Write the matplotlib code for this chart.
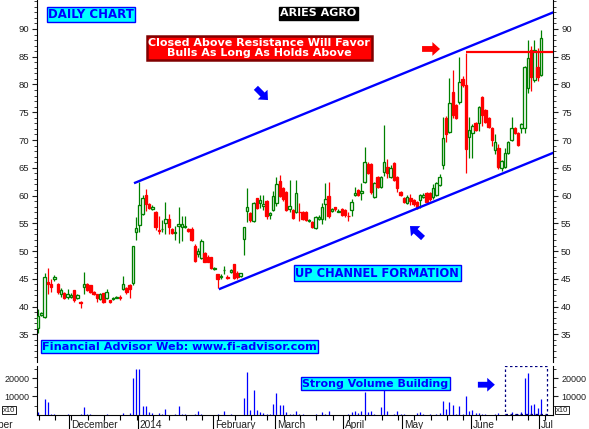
import numpy as np
import matplotlib
matplotlib.use('Agg')
import matplotlib.pyplot as plt
from matplotlib.patches import Rectangle
from matplotlib.ticker import MultipleLocator, FixedLocator
from matplotlib.transforms import blended_transform_factory, Bbox, TransformedBbox

plt.rcParams['font.family'] = ['Liberation Sans', 'DejaVu Sans']

# daily OHLC, ARIES AGRO, mid Nov 2013 - 1 Jul 2014
opens = [36.2, 38.5, 38.1, 44.4, 44.0, 45.0, 44.1, 42.2, 42.4, 41.7,
         41.7, 42.9, 41.6, 40.8, 43.5, 44.1, 43.8, 42.6, 42.2, 41.4,
         42.4, 41.6, 41.1, 41.3, 41.6, 41.8, 43.1, 43.3, 43.9, 44.2,
         53.4, 54.7, 56.7, 60.1, 58.5, 57.6, 57.1, 53.8, 53.9, 55.1,
         55.8, 53.9, 53.2, 54.6, 54.4, 54.4, 54.0, 54.0, 51.0, 49.5,
         48.8, 49.6, 49.0, 48.9, 46.7, 45.8, 45.4, 46.5, 45.3, 46.3,
         47.6, 46.0, 45.5, 52.2, 57.3, 56.8, 55.5, 59.5, 58.6, 58.2,
         59.1, 56.5, 57.4, 58.6, 62.7, 61.4, 60.7, 57.6, 57.4, 57.1,
         57.1, 57.1, 57.1, 55.4, 55.3, 54.2, 55.8, 55.8, 58.5, 60.0,
         57.3, 57.9, 57.1, 57.6, 57.4, 56.4, 57.4, 60.1, 61.0, 60.5,
         62.5, 65.7, 65.7, 59.8, 63.4, 61.6, 64.3, 65.2, 63.4, 65.8,
         63.4, 60.6, 59.5, 58.6, 59.6, 59.2, 58.9, 59.2, 59.8, 60.4,
         60.4, 59.8, 60.1, 61.9, 65.5, 74.0, 71.5, 78.7, 76.3, 76.9,
         81.0, 79.9, 70.6, 71.3, 73.0, 73.0, 77.7, 75.4, 73.9, 72.1,
         68.2, 68.5, 64.9, 65.2, 67.6, 70.0, 72.1, 71.2, 72.1, 72.1,
         79.3, 86.2, 80.8, 83.2, 81.7]
highs = [39.5, 39.0, 46.1, 47.0, 45.0, 45.6, 44.3, 43.3, 42.6, 43.1,
         42.4, 43.0, 42.3, 41.0, 46.2, 44.2, 43.9, 42.8, 42.3, 42.4,
         42.5, 43.1, 41.2, 41.7, 41.9, 42.0, 45.5, 43.5, 44.0, 51.0,
         56.2, 62.5, 60.1, 61.2, 58.7, 58.3, 57.3, 56.3, 55.6, 58.9,
         56.6, 54.1, 54.5, 58.0, 56.4, 56.3, 54.2, 54.3, 51.2, 50.5,
         52.2, 49.8, 49.2, 49.0, 47.1, 45.9, 45.8, 47.3, 45.6, 46.8,
         47.7, 46.4, 46.1, 54.4, 61.3, 57.0, 58.8, 59.6, 60.1, 60.1,
         59.2, 57.0, 60.9, 63.4, 63.7, 61.6, 60.8, 62.8, 57.5, 62.8,
         58.6, 57.2, 57.3, 55.8, 55.5, 56.3, 56.5, 58.6, 62.2, 62.5,
         57.8, 58.0, 57.5, 57.8, 57.6, 57.0, 59.3, 61.6, 61.2, 62.2,
         68.8, 66.1, 65.8, 62.4, 63.6, 63.6, 72.7, 66.5, 65.5, 66.0,
         63.5, 60.8, 59.7, 60.1, 60.2, 59.4, 59.0, 60.3, 60.4, 60.6,
         60.6, 62.0, 62.4, 63.8, 74.2, 74.3, 81.2, 82.6, 76.5, 85.0,
         81.5, 85.6, 74.2, 72.8, 73.2, 76.2, 77.9, 75.6, 74.1, 72.3,
         71.0, 69.2, 66.4, 68.6, 69.9, 74.2, 72.3, 71.4, 73.0, 83.4,
         88.0, 87.0, 88.0, 86.6, 89.8]
lows = [35.3, 38.3, 38.0, 42.2, 42.7, 44.6, 42.3, 41.8, 41.3, 41.3,
        41.5, 40.9, 41.3, 39.7, 42.3, 42.8, 42.5, 42.0, 40.8, 41.2,
        40.7, 41.4, 40.6, 41.2, 41.5, 41.1, 42.9, 42.3, 41.5, 43.8,
        52.0, 53.5, 56.5, 57.3, 57.5, 57.4, 53.8, 53.0, 53.4, 53.0,
        53.0, 53.0, 52.0, 51.5, 51.9, 54.2, 53.5, 51.8, 48.0, 49.0,
        48.6, 48.0, 48.0, 46.8, 46.5, 43.3, 45.0, 45.8, 45.0, 46.1,
        45.0, 45.0, 45.3, 49.2, 55.3, 55.3, 55.3, 57.5, 57.7, 57.4,
        55.8, 55.8, 57.2, 58.2, 59.8, 59.0, 57.2, 57.1, 55.7, 56.8,
        55.4, 55.6, 55.4, 55.2, 54.1, 54.0, 55.6, 54.8, 55.6, 56.0,
        57.1, 57.2, 57.0, 56.3, 56.2, 55.5, 56.4, 60.0, 59.9, 59.2,
        62.3, 63.8, 60.2, 59.6, 61.4, 61.4, 63.6, 63.1, 63.2, 62.6,
        60.7, 59.9, 58.7, 58.4, 58.3, 58.2, 57.5, 57.8, 59.5, 58.7,
        59.0, 59.3, 59.9, 61.7, 64.8, 69.7, 71.3, 74.0, 73.7, 76.5,
        79.5, 64.0, 66.7, 66.7, 71.6, 71.6, 72.6, 73.0, 72.2, 69.0,
        67.5, 64.8, 64.5, 64.9, 67.4, 69.8, 71.0, 68.9, 71.2, 71.3,
        78.5, 78.9, 80.5, 80.6, 81.5]
closes = [38.3, 38.9, 45.3, 44.0, 43.5, 45.3, 42.6, 42.9, 41.6, 42.3,
          42.1, 41.1, 42.1, 40.6, 44.1, 43.0, 42.6, 42.2, 41.6, 42.2,
          40.9, 42.7, 40.8, 41.6, 41.7, 41.6, 44.1, 42.6, 43.1, 51.0,
          54.2, 58.3, 59.5, 58.5, 57.8, 58.0, 54.4, 53.7, 54.0, 55.8,
          54.4, 53.2, 53.5, 54.9, 54.8, 54.6, 53.7, 52.0, 48.2, 50.0,
          51.9, 48.1, 48.1, 47.0, 46.9, 44.9, 45.5, 46.6, 45.1, 46.6,
          45.1, 45.3, 46.0, 54.3, 57.9, 55.6, 58.6, 57.7, 59.2, 58.5,
          56.4, 56.8, 59.9, 62.1, 60.0, 59.4, 57.4, 58.2, 55.9, 60.4,
          57.0, 55.8, 55.6, 55.6, 54.4, 56.1, 56.2, 58.0, 59.4, 56.3,
          57.6, 57.5, 57.3, 56.5, 56.5, 56.3, 58.9, 60.4, 60.1, 60.8,
          66.0, 64.0, 60.7, 62.2, 61.6, 63.4, 66.1, 64.0, 64.9, 62.8,
          61.3, 60.1, 58.9, 59.8, 59.1, 58.4, 57.7, 60.1, 60.1, 58.9,
          59.3, 61.3, 62.2, 63.4, 70.3, 71.0, 76.6, 74.5, 73.9, 80.5,
          79.9, 68.4, 71.8, 72.6, 71.8, 76.0, 74.5, 73.3, 72.4, 70.0,
          69.7, 65.2, 66.2, 67.6, 69.7, 72.1, 71.2, 69.1, 72.8, 83.2,
          84.7, 81.4, 86.2, 81.4, 88.3]
volumes = [1500, 0, 8700, 6900, 600, 600, 0, 0, 0, 600,
           0, 0, 0, 600, 4200, 600, 600, 0, 0, 0,
           0, 600, 0, 0, 0, 0, 1100, 0, 1100, 20200,
           25100, 25100, 4700, 4700, 1500, 900, 0, 900, 500, 3100,
           0, 0, 500, 4700, 500, 500, 0, 0, 500, 2000,
           500, 0, 0, 0, 0, 500, 0, 2000, 0, 500,
           0, 0, 0, 9100, 23300, 2400, 13500, 2400, 1500, 900,
           500, 500, 5800, 11800, 5500, 5500, 1500, 500, 500, 2000,
           500, 500, 0, 0, 0, 500, 0, 1500, 500, 2000,
           0, 0, 0, 0, 0, 500, 1500, 2000, 900, 1800,
           12400, 1500, 2000, 500, 0, 4200, 13300, 1800, 0, 500,
           1800, 500, 500, 0, 0, 0, 900, 1500, 500, 0,
           500, 0, 500, 900, 7500, 3300, 7100, 5500, 500, 4600,
           500, 10400, 2000, 2700, 900, 900, 500, 500, 0, 0,
           500, 900, 0, 500, 0, 1500, 500, 500, 1500, 20200,
           22800, 5100, 6000, 3600, 8400]

month_labels = ['December', '2014', 'February', 'March', 'April', 'May', 'June', 'July']
month_start = [10, 31, 54, 73, 94, 112, 133, 154]
price_ticks = [35, 40, 45, 50, 55, 60, 65, 70, 75, 80, 85, 90]
vol_ticks = [10000, 20000]

# trend lines drawn on the chart (bar index, price)
upper_channel = ([29.7, 157.8], [62.3, 93.0])
lower_channel = ([55.7, 157.8], [43.2, 67.7])
resistance_start = 131
resistance = 85.9

W, H = 589, 429
fig = plt.figure(figsize=(W / 100, H / 100), dpi=100)
ax = fig.add_axes([37 / W, (H - 361.7) / H, 516.3 / W, 361.7 / H])
axv = fig.add_axes([37 / W, 14.3 / H, 516.3 / W, 49 / H])

o = np.array(opens)
hi = np.array(highs)
lo = np.array(lows)
c = np.array(closes)
x = np.arange(len(c))
up = c >= o
green, red, blue = '#008000', '#ff0000', '#0000ff'
col = np.where(up, green, red)

ax.vlines(x, lo, hi, colors=col, lw=0.9, zorder=2)
ax.bar(x, np.abs(c - o), bottom=np.minimum(o, c), width=0.75,
       color=np.where(up, 'white', red), edgecolor=col, linewidth=0.95, zorder=3)

ax.plot(*upper_channel, color=blue, lw=1.7, zorder=4)
ax.plot(*lower_channel, color=blue, lw=1.7, zorder=4)
ax.hlines(resistance, resistance_start, upper_channel[0][1], color=red, lw=1.6, zorder=4)

xmax = upper_channel[0][1]
for a in (ax, axv):
    a.set_xlim(-0.35, xmax)
    a.spines['top'].set_visible(False)
ax.spines['bottom'].set_visible(False)
ax.set_ylim(30.07, 95.22)
ax.set_xticks([])
ax.set_yticks(price_ticks)
ax.yaxis.set_minor_locator(MultipleLocator(1))
ax.tick_params(axis='y', which='both', left=True, right=True, labelleft=True,
               labelright=True, direction='out', labelsize=6.8, pad=2, colors='#202020')
ax.tick_params(axis='y', which='major', length=3.6)
ax.tick_params(axis='y', which='minor', length=2)

# volume panel
axv.vlines(x, 0, volumes, colors=blue, lw=0.9)
axv.set_ylim(0, 26800)
axv.set_yticks(vol_ticks)
axv.set_yticklabels([str(v) for v in vol_ticks])
axv.yaxis.set_minor_locator(FixedLocator([5000, 15000, 25000]))
axv.tick_params(axis='y', which='both', left=True, right=True, labelleft=True,
                labelright=True, direction='out', labelsize=6.5, pad=2, colors='#202020')
axv.tick_params(axis='y', which='major', length=3.6)
axv.tick_params(axis='y', which='minor', length=2)
axv.set_xticks([m - 0.5 for m in month_start])
axv.set_xticklabels([])
axv.xaxis.set_minor_locator(FixedLocator(np.arange(0.2, xmax, 5.0)))
axv.tick_params(axis='x', which='major', length=10.5, direction='out', width=0.8)
axv.tick_params(axis='x', which='minor', length=3.6, direction='out', width=0.8)

trans = blended_transform_factory(axv.transData, fig.transFigure)
clip = TransformedBbox(Bbox([[0, -1], [1, 1]]), axv.transAxes)
for m, lab in zip(month_start, month_labels):
    t = axv.text(m - 0.5 + 0.6, 1.2 / H, lab, transform=trans, ha='left', va='baseline',
                 fontsize=7.3, color='#202020')
    t.set_clip_box(clip)
    t.set_clip_on(True)
# november label is cut by the left edge, as in the original
fig.text(12.5 / W, 1.2 / H, 'November', ha='right', va='baseline', fontsize=7.3, color='#202020')

for xp in (3 / W, 555.5 / W):
    fig.text(xp, 19 / H, 'x10', fontsize=5.5, ha='left', va='center', color='#202020',
             bbox=dict(boxstyle='square,pad=0.12', fc='white', ec='black', lw=0.6))

# annotations
bold = dict(family='DejaVu Sans', weight='bold', ha='center', va='center')
cyan_box = dict(boxstyle='square,pad=0.12', fc='#00ffff', ec=blue, lw=1)
ax.text(16.2, 92.6, 'DAILY CHART', color=blue, fontsize=8.5, bbox=cyan_box, **bold)
ax.text(85.9, 92.8, 'ARIES AGRO', color='white', fontsize=8,
        bbox=dict(boxstyle='square,pad=0.15', fc='black', ec='black', lw=1), **bold)
ax.text(67.7, 86.6, 'Closed Above Resistance Will Favor\nBulls As Long As Holds Above',
        color='white', fontsize=8, linespacing=1.0,
        bbox=dict(boxstyle='square,pad=0.15', fc=red, ec='#800000', lw=1.8), **bold)
ax.text(103.9, 46.0, 'UP CHANNEL FORMATION', color=blue, fontsize=8.3, bbox=cyan_box, **bold)
ax.text(43.3, 32.8, 'Financial Advisor Web: www.fi-advisor.com', color=blue, fontsize=8.1,
        bbox=cyan_box, **bold)
axv.text(103.3, 16900, 'Strong Volume Building', color=blue, fontsize=7.9, bbox=cyan_box, **bold)

arrow = dict(arrowstyle='simple,head_length=0.5,head_width=0.9,tail_width=0.38',
             shrinkA=0, shrinkB=0, lw=0)
ax.annotate('', xy=(70.4, 77.2), xytext=(66.7, 79.4),
            arrowprops=dict(fc=blue, mutation_scale=11, **arrow))
ax.annotate('', xy=(123.1, 86.4), xytext=(117.6, 86.4),
            arrowprops=dict(fc=red, mutation_scale=11, **arrow))
ax.annotate('', xy=(113.9, 54.5), xytext=(117.9, 52.35),
            arrowprops=dict(fc=blue, mutation_scale=11, **arrow))
axv.annotate('', xy=(139.9, 16400), xytext=(134.7, 16400),
             arrowprops=dict(fc=blue, mutation_scale=11, **arrow))
axv.add_patch(Rectangle((143.0, 550), 12.9, 25900, fill=False, ec='#000080',
                        lw=0.9, ls=(0, (2, 2)), zorder=5))

fig.savefig('out.png', dpi=100)
